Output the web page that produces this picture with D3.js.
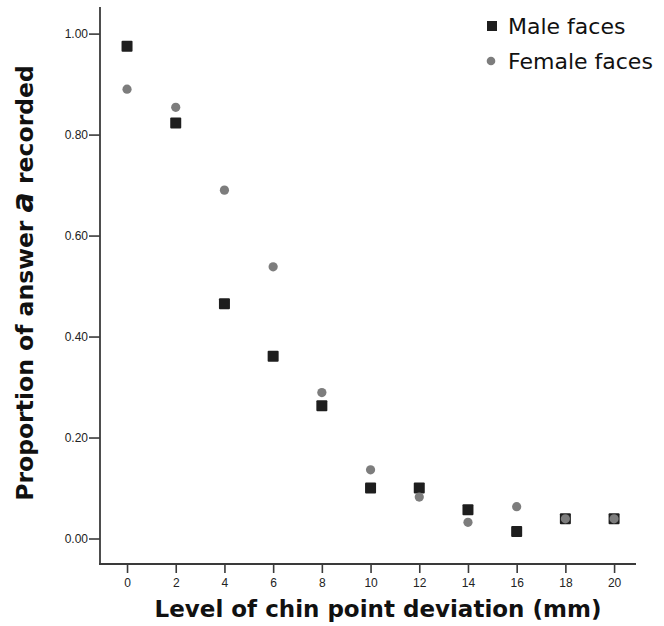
<!DOCTYPE html>
<html>
<head>
<meta charset="utf-8">
<script src="https://cdn.jsdelivr.net/npm/d3@7"></script>
<style>
  body { margin: 0; background: #fff; }
</style>
</head>
<body>
<svg id="chart"></svg>
<script>
// data
var deviations = [0, 2, 4, 6, 8, 10, 12, 14, 16, 18, 20];
var maleValues = [0.975, 0.823, 0.465, 0.361, 0.263, 0.100, 0.100, 0.057, 0.014, 0.039, 0.039];
var femaleValues = [0.890, 0.854, 0.690, 0.538, 0.289, 0.136, 0.082, 0.032, 0.063, 0.039, 0.039];
var yTicks = [0, 0.2, 0.4, 0.6, 0.8, 1.0];
var seriesNames = ["Male faces", "Female faces"];

var width = 664,
    height = 626;

// plot edges (window.top is taken, so own names)
var plotLeft = 100, plotRight = 636, plotTop = 7, plotBottom = 564;

var svg = d3.select("#chart")
  .attr("width", width)
  .attr("height", height);

// scales
var x = d3.scaleLinear().domain([-1.11, 20.9]).range([plotLeft, plotRight]);
var y = d3.scaleLinear().domain([-0.0505, 1.0527]).range([plotBottom, plotTop]);

var axisColor = "#3a3a3a";

// y axis
var yAxis = svg.append("g")
  .attr("transform", "translate(" + plotLeft + ",0)")
  .call(d3.axisLeft(y).tickValues(yTicks).tickSize(11).tickPadding(1).tickFormat(d3.format(".2f")));

// x axis
var xAxis = svg.append("g")
  .attr("transform", "translate(0," + plotBottom + ")")
  .call(d3.axisBottom(x).tickValues(deviations).tickSize(9).tickPadding(5).tickFormat(d3.format("d")));

[yAxis, xAxis].forEach(function(a) {
  a.select(".domain").remove();
  a.selectAll("line").attr("stroke", axisColor).attr("stroke-width", 1.6);
  a.selectAll("text")
    .attr("fill", "#222")
    .style("font-family", "'Liberation Sans', Arial, sans-serif")
    .style("font-size", "12px");
});

// axis lines (no top or right border)
svg.append("line")
  .attr("x1", plotLeft).attr("x2", plotLeft)
  .attr("y1", plotTop).attr("y2", plotBottom)
  .attr("stroke", axisColor).attr("stroke-width", 1.8);
svg.append("line")
  .attr("x1", plotLeft - 1).attr("x2", plotRight)
  .attr("y1", plotBottom).attr("y2", plotBottom)
  .attr("stroke", axisColor).attr("stroke-width", 1.8);

// male squares
var sq = 11;
svg.append("g").selectAll("rect")
  .data(deviations)
  .enter().append("rect")
  .attr("x", function(d) { return x(d) - sq / 2; })
  .attr("y", function(d, i) { return y(maleValues[i]) - sq / 2; })
  .attr("width", sq)
  .attr("height", sq)
  .attr("rx", 1)
  .attr("fill", "#1e1e1e");

// female circles, drawn on top
svg.append("g").selectAll("circle")
  .data(deviations)
  .enter().append("circle")
  .attr("cx", function(d) { return x(d); })
  .attr("cy", function(d, i) { return y(femaleValues[i]); })
  .attr("r", 4.6)
  .attr("fill", "#7d7d7d");

// legend
var legend = svg.append("g");
legend.append("rect")
  .attr("x", 487).attr("y", 21)
  .attr("width", 10).attr("height", 10)
  .attr("fill", "#1e1e1e");
legend.append("circle")
  .attr("cx", 491).attr("cy", 61).attr("r", 4.3)
  .attr("fill", "#7d7d7d");
legend.selectAll("text")
  .data(seriesNames)
  .enter().append("text")
  .attr("x", 508)
  .attr("y", function(d, i) { return 34 + i * 35; })
  .attr("fill", "#111")
  .style("font-family", "'DejaVu Sans', sans-serif")
  .style("font-size", "22px")
  .text(function(d) { return d; });

// axis titles
svg.append("text")
  .attr("x", 378)
  .attr("y", 617)
  .attr("text-anchor", "middle")
  .attr("fill", "#111")
  .style("font-family", "'DejaVu Sans', sans-serif")
  .style("font-weight", "bold")
  .style("font-size", "23px")
  .text("Level of chin point deviation (mm)");

var yTitle = svg.append("text")
  .attr("transform", "translate(33,283) rotate(-90)")
  .attr("text-anchor", "middle")
  .attr("fill", "#111")
  .style("font-family", "'DejaVu Sans', sans-serif")
  .style("font-weight", "bold")
  .style("font-size", "23.5px");
yTitle.append("tspan").text("Proportion of answer ");
yTitle.append("tspan").style("font-style", "italic").style("font-size", "30px").text("a");
yTitle.append("tspan").text(" recorded");
</script>
</body>
</html>
